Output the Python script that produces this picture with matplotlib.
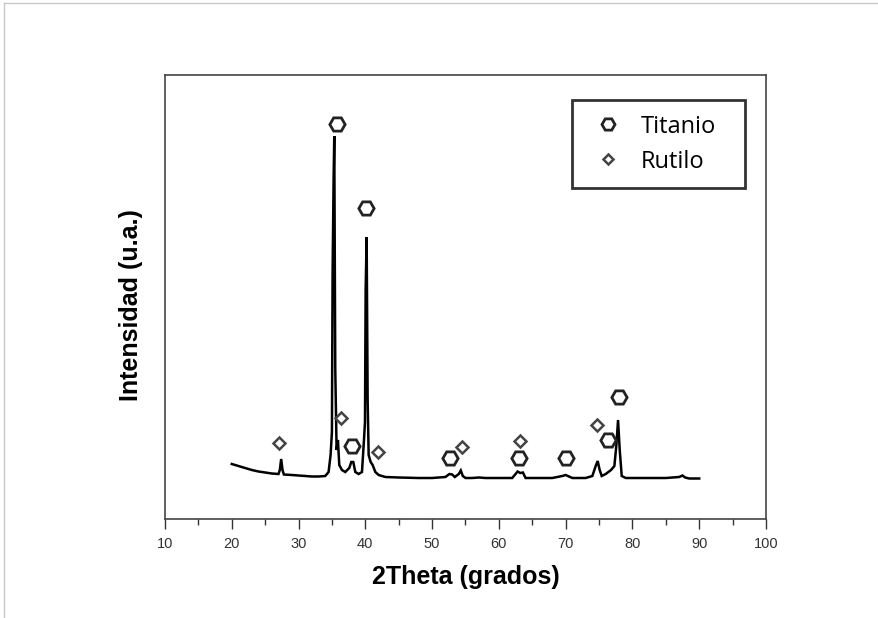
import matplotlib.pyplot as plt
from matplotlib.lines import Line2D
from matplotlib.ticker import MultipleLocator

# spectrum (2theta, intensity in arbitrary units)
theta = [20.0, 21, 22, 23, 24, 25, 26, 27, 27.2, 27.4, 27.6, 27.8, 29, 30, 31, 32, 33,
         34, 34.5, 34.8, 35.0, 35.1, 35.25, 35.35, 35.5, 35.7, 35.9, 36.1, 36.5, 37.0,
         37.6, 37.9, 38.2, 38.5, 39.0, 39.5, 39.8, 39.95, 40.05, 40.2, 40.35, 40.5,
         40.8, 41.1, 41.5, 42, 43, 45, 48, 50, 52, 52.6, 53.0, 53.4, 54.0, 54.3, 54.6,
         55, 56, 57, 58, 60, 62, 62.5, 62.8, 63.2, 63.6, 64.0, 66, 68, 69.5, 70, 70.5,
         71, 73, 74, 74.5, 74.8, 75.1, 75.4, 76, 76.8, 77.3, 77.6, 77.85, 78.1, 78.4,
         79, 80, 85, 87, 87.5, 87.9, 88.5, 90]
intens = [55, 53, 51, 49, 47.5, 46.5, 45.5, 45, 49, 60, 49, 44.5, 44, 43.5, 43, 42.5, 42.5,
          43, 47, 64, 87, 246, 339, 383, 150, 69, 79, 54, 49, 47,
          51, 57, 57, 47, 45, 47, 79, 97, 229, 282, 119, 64,
          57, 54, 47, 44, 42, 41.5, 41, 41, 42, 45, 44.5, 42, 45, 48.5, 43,
          41, 41, 41.5, 41, 41, 41, 45, 47.5, 46, 46.5, 41, 41, 41, 43, 44, 42.5,
          41, 41, 43, 53, 58, 49, 43, 45, 49, 53, 74, 99, 69, 43,
          41, 41, 41, 42, 43.5, 41.5, 40.5, 40.5]

titanio_x = [35.75, 40.1, 38.0, 52.7, 63.0, 70.0, 76.3, 78.0]
titanio_y = [395, 311, 73, 61, 61, 61, 79, 122]
rutilo_x = [27.1, 36.3, 41.9, 54.5, 63.1, 74.7]
rutilo_y = [76, 101, 67, 72, 78, 94]


def main():
	fig = plt.figure(figsize=(8.79, 6.18), dpi=100)
	ax = fig.add_axes([0.1877, 0.1602, 0.6837, 0.7184])

	ax.plot(theta, intens, color='black', lw=1.8, solid_joinstyle='miter')
	ax.plot(titanio_x, titanio_y, ls='none', marker='H', ms=11, mfc='white',
			mec='#222222', mew=2, label='Titanio')
	ax.plot(rutilo_x, rutilo_y, ls='none', marker='D', ms=6.5, mfc='white',
			mec='#444444', mew=1.8, label='Rutilo')

	ax.set_xlim(10, 100)
	ax.set_ylim(0, 444)
	ax.xaxis.set_major_locator(MultipleLocator(10))
	ax.xaxis.set_minor_locator(MultipleLocator(5))
	ax.tick_params(axis='x', which='major', direction='out', length=7, width=1,
				   color='#333333', labelsize=10.5, labelcolor='#333333', pad=6)
	ax.tick_params(axis='x', which='minor', direction='out', length=4, width=1, color='#333333')
	ax.set_yticks([])
	for s in ax.spines.values():
		s.set_color('#444444')
		s.set_linewidth(1.2)
	for lab in ax.get_xticklabels():
		lab.set_family('Liberation Sans')

	ax.set_xlabel('2Theta (grados)', family='Liberation Sans', fontweight='bold',
				  fontsize=18, labelpad=10)
	ax.set_ylabel('Intensidad (u.a.)', family='Liberation Sans', fontweight='bold',
				  fontsize=18, labelpad=16)
	ax.yaxis.label.set_y(0.482)

	leg = ax.legend(loc='upper left', bbox_to_anchor=(0.678, 0.5, 0.287, 0.444), mode='expand',
					frameon=True, fancybox=False, edgecolor='black',
					prop={'family': 'Open Sans', 'size': 17},
					handlelength=1.75, handletextpad=0.52, borderpad=0.62, labelspacing=0.47,
					borderaxespad=0, markerscale=0.85)
	leg.get_frame().set_linewidth(2)

	# light frame round the picture
	fig.add_artist(Line2D([4 / 879, 1], [1 - 2.5 / 618, 1 - 2.5 / 618], color='#c8c8c8', lw=1))
	fig.add_artist(Line2D([4 / 879, 4 / 879], [0, 1 - 2.5 / 618], color='#c8c8c8', lw=1))

	fig.savefig('out.png', dpi=100)


if __name__ == '__main__':
	main()
